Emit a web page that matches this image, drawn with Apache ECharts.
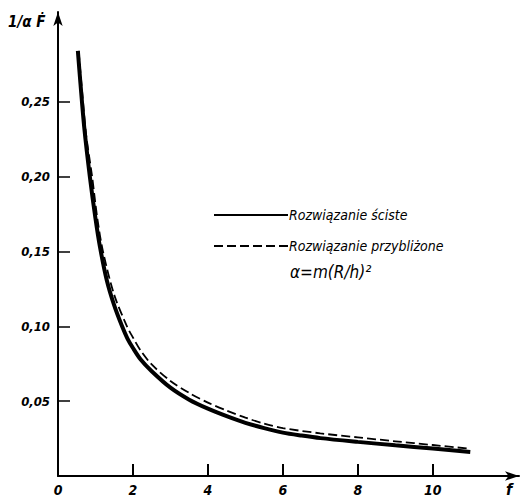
<!DOCTYPE html>
<html><head><meta charset="utf-8">
<script src="https://cdn.jsdelivr.net/npm/echarts@6/dist/echarts.min.js"></script>
<style>html,body{margin:0;padding:0;background:#fff}#c{width:526px;height:498px}</style>
</head><body><div id="c"></div>
<script>
const solidF = [0.53, 0.6, 0.7, 0.85, 1.0, 1.12, 1.3, 1.5, 1.71, 1.85, 2.0, 2.2, 2.5, 3.0, 3.5, 4.0, 4.5, 5.0, 5.5, 6.0, 6.5, 7.0, 8.0, 9.0, 10.0, 11.0];
const solidV = [0.284, 0.262, 0.233, 0.200, 0.172, 0.153, 0.131, 0.114, 0.100, 0.092, 0.0855, 0.078, 0.070, 0.059, 0.051, 0.045, 0.040, 0.0355, 0.032, 0.029, 0.027, 0.0253, 0.0228, 0.0205, 0.0183, 0.016];
const dashF = [0.55, 0.65, 0.75, 0.91, 1.05, 1.2, 1.5, 1.84, 2.0, 2.2, 2.5, 3.0, 3.5, 4.0, 4.5, 5.0, 5.5, 6.0, 7.0, 8.0, 9.0, 10.0, 11.0];
const dashV = [0.284, 0.255, 0.228, 0.200, 0.172, 0.150, 0.121, 0.100, 0.0925, 0.084, 0.0745, 0.0635, 0.0555, 0.049, 0.0437, 0.039, 0.035, 0.032, 0.0285, 0.0258, 0.0232, 0.0207, 0.0182];
const xTicks = [0, 2, 4, 6, 8, 10];
const yTicks = [0.05, 0.10, 0.15, 0.20, 0.25];
const seriesNames = ['Rozwiązanie ściste', 'Rozwiązanie przybliżone'];
const noteText = 'α=m(R/h)²';
const yTitle = '1/α Ḟ';
const xTitle = 'f';

const FONT = "'Liberation Sans Narrow','DejaVu Sans Condensed','Liberation Sans',sans-serif";
const chart = echarts.init(document.getElementById('c'), null, {renderer: 'svg'});
chart.setOption({
  backgroundColor: '#fff',
  animation: false,
  grid: {left: 58, right: 7, top: 12, bottom: 22},
  xAxis: {
    type: 'value', min: 0, max: 12.3, interval: 2,
    axisLine: {show: true, lineStyle: {color: '#000', width: 2}, symbol: ['none', 'arrow'], symbolSize: [7, 14]},
    axisTick: {show: true, inside: true, length: 12, lineStyle: {color: '#000', width: 2}, customValues: xTicks},
    axisLabel: {customValues: xTicks, color: '#000', fontFamily: FONT, fontStyle: 'italic', fontWeight: 'bold', fontSize: 14, margin: 7},
    splitLine: {show: false}
  },
  yAxis: {
    type: 'value', min: 0, max: 0.31, interval: 0.05,
    axisLine: {show: true, lineStyle: {color: '#000', width: 2}, symbol: ['none', 'arrow'], symbolSize: [7, 14]},
    axisTick: {show: true, inside: true, length: 12, lineStyle: {color: '#000', width: 1.5}, customValues: yTicks},
    axisLabel: {customValues: yTicks, color: '#000', fontFamily: FONT, fontStyle: 'italic', fontWeight: 'bold', fontSize: 13, margin: 8,
      formatter: v => v.toFixed(2).replace('.', ',')},
    splitLine: {show: false}
  },
  legend: {
    orient: 'vertical', left: 208, top: 203, itemGap: 17, itemWidth: 74, itemHeight: 10,
    itemStyle: {opacity: 0},
    textStyle: {color: '#000', fontFamily: FONT, fontStyle: 'italic', fontSize: 14, padding: [0, 0, 0, -4]},
    data: seriesNames
  },
  graphic: [
    {type: 'text', left: 290, top: 263, style: {text: noteText, fill: '#000', font: 'italic 17px ' + FONT}},
    {type: 'text', left: 8, top: 14, style: {text: yTitle, fill: '#000', font: 'italic bold 15px ' + FONT}},
    {type: 'text', left: 506, top: 481, style: {text: xTitle, fill: '#000', font: 'italic bold 16px ' + FONT}}
  ],
  series: [
    {name: seriesNames[0], type: 'line', smooth: 0.3, symbol: 'none', showSymbol: false,
      lineStyle: {color: '#000', width: 4}, itemStyle: {color: '#000'},
      data: solidF.map((f, i) => [f, solidV[i]])},
    {name: seriesNames[1], type: 'line', smooth: 0.3, symbol: 'none', showSymbol: false,
      lineStyle: {color: '#000', width: 1.8, type: [9, 4]}, itemStyle: {color: '#000'},
      data: dashF.map((f, i) => [f, dashV[i]])}
  ]
});
</script></body></html>
